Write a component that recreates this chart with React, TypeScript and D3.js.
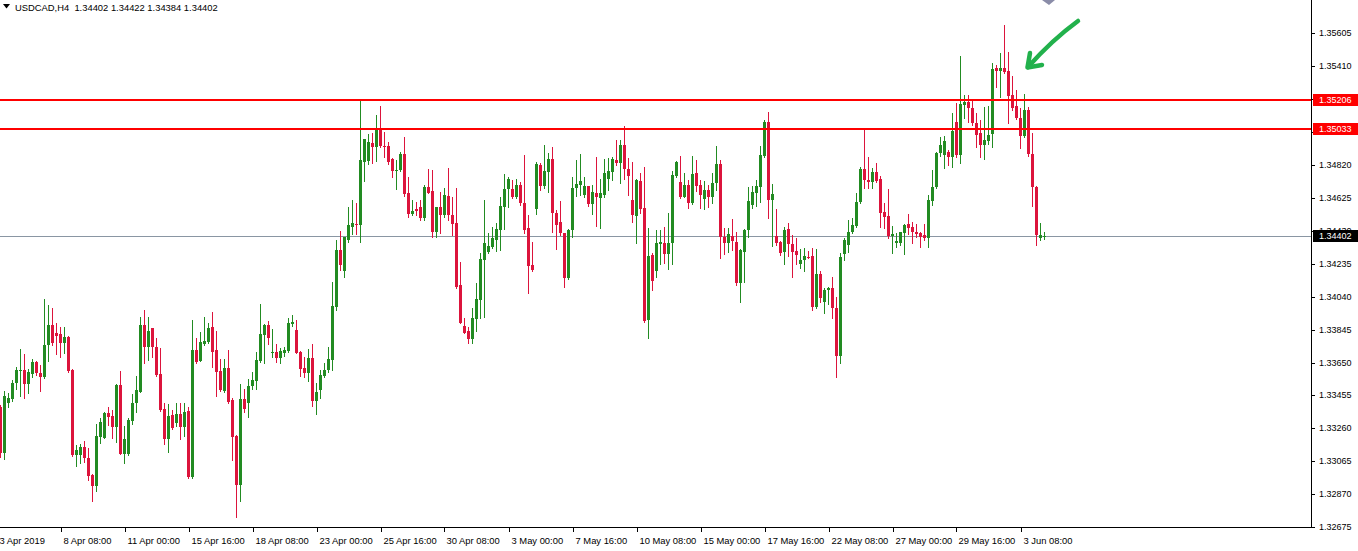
import React from "react";
import * as d3 from "d3";

// USDCAD H4 candles
const openP = [
1.33389,1.33116,1.33413,1.33433,1.33528,1.33607,1.33607,1.33522,1.33581,1.33656,
1.33591,1.33567,1.33755,1.33873,1.33828,1.33818,1.33765,1.33804,1.33607,1.33102,
1.33102,1.33152,1.33083,1.32984,1.32919,1.33211,1.33205,1.33350,1.33336,1.33270,
1.33518,1.33108,1.33107,1.33304,1.33409,1.33478,1.33873,1.33745,1.33854,1.33741,
1.33583,1.33375,1.33197,1.33340,1.33291,1.33346,1.33270,1.33363,1.32970,1.33725,
1.33662,1.33759,1.33774,1.33862,1.33725,1.33601,1.33482,1.33620,1.33429,1.33217,
1.32925,1.33435,1.33409,1.33514,1.33543,1.33660,1.33814,1.33873,1.33713,1.33715,
1.33680,1.33706,1.33721,1.33878,1.33844,1.33715,1.33620,1.33587,1.33680,1.33423,
1.33488,1.33571,1.33607,1.33666,1.33982,1.34318,1.34195,1.34377,1.34456,1.34470,
1.34466,1.34842,1.34848,1.34955,1.34927,1.35040,1.34935,1.34935,1.34858,1.34793,
1.34793,1.34888,1.34654,1.34532,1.34559,1.34573,1.34506,1.34694,1.34668,1.34427,
1.34571,1.34526,1.34638,1.34526,1.34480,1.34111,1.33868,1.33840,1.33789,1.33907,
1.34022,1.34259,1.34308,1.34338,1.34377,1.34437,1.34575,1.34678,1.34678,1.34631,
1.34704,1.34595,1.34447,1.34229,1.34560,1.34822,1.34700,1.34783,1.34856,1.34536,
1.34486,1.34417,1.34150,1.34437,1.34684,1.34704,1.34644,1.34698,1.34589,1.34654,
1.34625,1.34644,1.34737,1.34783,1.34852,1.34836,1.34941,1.34797,1.34615,1.34520,
1.34729,1.34566,1.33903,1.34289,1.34195,1.34352,1.34362,1.34295,1.34358,1.34758,
1.34723,1.34634,1.34704,1.34599,1.34777,1.34704,1.34619,1.34674,1.34631,1.34714,
1.34828,1.34397,1.34358,1.34401,1.34367,1.34121,1.34308,1.34437,1.34585,1.34654,
1.34694,1.34878,1.35079,1.34615,1.34403,1.34364,1.34308,1.34443,1.34352,1.34312,
1.34235,1.34259,1.34279,1.34283,1.33982,1.34174,1.34008,1.34081,1.34091,1.33972,
1.33691,1.34293,1.34348,1.34423,1.34462,1.34601,1.34797,1.34733,1.34720,1.34783,
1.34737,1.34545,1.34520,1.34403,1.34358,1.34358,1.34417,1.34471,1.34456,1.34427,
1.34417,1.34407,1.34388,1.34609,1.34694,1.34892,1.34882,1.34901,1.34872,1.35079,
1.34882,1.35178,1.35198,1.35159,1.35073,1.35010,1.34941,1.34966,1.35006,1.35396,
1.35381,1.35396,1.35381,1.35237,1.35172,1.35099,1.34994,1.35148,1.34888,1.34694,
1.34388,1.34402];

const highP = [
1.33399,1.33482,1.33468,1.33547,1.33626,1.33729,1.33700,1.33611,1.33672,1.33660,
1.33636,1.34026,1.33992,1.33976,1.33884,1.33863,1.33860,1.33810,1.33610,1.33162,
1.33168,1.33187,1.33142,1.32988,1.33286,1.33324,1.33359,1.33385,1.33369,1.33522,
1.33601,1.33274,1.33320,1.33464,1.33571,1.33919,1.33962,1.33923,1.33857,1.33798,
1.33735,1.33409,1.33403,1.33369,1.33409,1.33409,1.33409,1.33389,1.33903,1.33795,
1.33830,1.33919,1.33884,1.33952,1.33838,1.33672,1.33672,1.33725,1.33439,1.33220,
1.33524,1.33494,1.33553,1.33593,1.33715,1.33998,1.33879,1.33899,1.33848,1.33759,
1.33739,1.33745,1.33917,1.33933,1.33903,1.33718,1.33685,1.33731,1.33759,1.33528,
1.33607,1.33646,1.33745,1.34130,1.34377,1.34433,1.34397,1.34571,1.34615,1.34595,
1.35206,1.34978,1.35006,1.35010,1.35119,1.35172,1.35020,1.34960,1.34862,1.34852,
1.34901,1.34990,1.34749,1.34615,1.34605,1.34615,1.34704,1.34797,1.34793,1.34575,
1.34664,1.34684,1.34803,1.34634,1.34684,1.34249,1.33913,1.33863,1.33972,1.34121,
1.34302,1.34615,1.34417,1.34453,1.34480,1.34631,1.34769,1.34749,1.34733,1.34737,
1.34723,1.34882,1.34526,1.34367,1.34842,1.34836,1.34941,1.34892,1.34927,1.34555,
1.34609,1.34420,1.34440,1.34749,1.34852,1.34888,1.34753,1.34700,1.34704,1.34872,
1.34737,1.34856,1.34866,1.34872,1.34971,1.34971,1.35054,1.34862,1.34840,1.34737,
1.34777,1.34812,1.34450,1.34299,1.34437,1.34437,1.34456,1.34539,1.34788,1.34848,
1.34876,1.34773,1.34733,1.34876,1.34852,1.34733,1.34729,1.34704,1.34777,1.34935,
1.34852,1.34447,1.34447,1.34500,1.34427,1.34321,1.34443,1.34694,1.34700,1.34733,
1.34937,1.35089,1.35135,1.34708,1.34561,1.34372,1.34456,1.34476,1.34407,1.34391,
1.34324,1.34332,1.34312,1.34328,1.34324,1.34194,1.34095,1.34101,1.34160,1.34041,
1.34299,1.34388,1.34496,1.34506,1.34654,1.34812,1.35030,1.34872,1.34806,1.34832,
1.34757,1.34595,1.34680,1.34461,1.34417,1.34427,1.34471,1.34532,1.34483,1.34471,
1.34427,1.34471,1.34644,1.34793,1.34901,1.34990,1.34994,1.34911,1.35129,1.35188,
1.35469,1.35237,1.35237,1.35200,1.35129,1.35089,1.35168,1.35172,1.35425,1.35415,
1.35485,1.35652,1.35494,1.35350,1.35267,1.35159,1.35243,1.35164,1.35014,1.34697,
1.34476,1.34422];

const lowP = [
1.33092,1.33077,1.33385,1.33425,1.33492,1.33452,1.33439,1.33468,1.33563,1.33577,
1.33484,1.33557,1.33662,1.33755,1.33702,1.33682,1.33709,1.33597,1.33098,1.33039,
1.33057,1.33063,1.32954,1.32831,1.32889,1.33176,1.33200,1.33280,1.33200,1.33181,
1.33107,1.33057,1.33102,1.33285,1.33359,1.33474,1.33650,1.33666,1.33685,1.33571,
1.33363,1.33168,1.33122,1.33257,1.33276,1.33196,1.33217,1.32968,1.32965,1.33646,
1.33658,1.33755,1.33769,1.33626,1.33454,1.33482,1.33478,1.33409,1.33073,1.32737,
1.32831,1.33359,1.33326,1.33494,1.33494,1.33652,1.33646,1.33761,1.33682,1.33656,
1.33646,1.33691,1.33715,1.33869,1.33706,1.33573,1.33567,1.33541,1.33393,1.33346,
1.33439,1.33567,1.33597,1.33607,1.33962,1.34200,1.34160,1.34367,1.34413,1.34413,
1.34367,1.34729,1.34828,1.34832,1.34848,1.34927,1.34872,1.34828,1.34753,1.34682,
1.34788,1.34638,1.34516,1.34526,1.34526,1.34496,1.34496,1.34654,1.34397,1.34397,
1.34417,1.34516,1.34496,1.34407,1.34091,1.33884,1.33824,1.33765,1.33769,1.33840,
1.33913,1.33923,1.34302,1.34328,1.34313,1.34318,1.34441,1.34575,1.34629,1.34625,
1.34585,1.34417,1.34061,1.34195,1.34532,1.34674,1.34684,1.34664,1.34427,1.34322,
1.34407,1.34097,1.34146,1.34397,1.34638,1.34644,1.34631,1.34579,1.34532,1.34461,
1.34447,1.34631,1.34674,1.34733,1.34822,1.34717,1.34737,1.34644,1.34486,1.34358,
1.34536,1.33893,1.33798,1.34081,1.34160,1.34235,1.34239,1.34204,1.34235,1.34753,
1.34625,1.34631,1.34566,1.34591,1.34670,1.34566,1.34560,1.34575,1.34599,1.34674,
1.34269,1.34295,1.34308,1.34318,1.34111,1.34008,1.34130,1.34397,1.34566,1.34581,
1.34605,1.34872,1.34510,1.34344,1.34348,1.34289,1.34233,1.34284,1.34160,1.34233,
1.34210,1.34195,1.34269,1.33962,1.33976,1.34008,1.33943,1.33996,1.33913,1.33567,
1.33646,1.34259,1.34308,1.34417,1.34456,1.34595,1.34688,1.34684,1.34688,1.34720,
1.34456,1.34450,1.34388,1.34299,1.34338,1.34348,1.34293,1.34411,1.34358,1.34397,
1.34334,1.34377,1.34338,1.34585,1.34684,1.34877,1.34805,1.34822,1.34812,1.34872,
1.34832,1.35099,1.35079,1.35059,1.34931,1.34872,1.34856,1.34947,1.34931,1.35287,
1.35227,1.35370,1.35070,1.35148,1.35093,1.34921,1.34990,1.34876,1.34579,1.34348,
1.34377,1.34384];

const closeP = [
1.33116,1.33452,1.33439,1.33528,1.33607,1.33608,1.33522,1.33597,1.33656,1.33587,
1.33567,1.33755,1.33873,1.33765,1.33810,1.33765,1.33804,1.33601,1.33102,1.33132,
1.33152,1.33083,1.32980,1.32919,1.33215,1.33297,1.33353,1.33330,1.33270,1.33518,
1.33108,1.33197,1.33310,1.33413,1.33488,1.33873,1.33745,1.33838,1.33741,1.33577,
1.33369,1.33197,1.33336,1.33261,1.33346,1.33270,1.33359,1.32970,1.33725,1.33656,
1.33774,1.33779,1.33854,1.33715,1.33597,1.33488,1.33620,1.33419,1.33211,1.32925,
1.33435,1.33375,1.33514,1.33547,1.33666,1.33818,1.33873,1.33795,1.33715,1.33680,
1.33719,1.33725,1.33884,1.33890,1.33709,1.33613,1.33587,1.33680,1.33423,1.33474,
1.33577,1.33607,1.33670,1.33986,1.34318,1.34229,1.34393,1.34466,1.34476,1.34466,
1.34852,1.34975,1.34960,1.34927,1.35043,1.34935,1.34927,1.34842,1.34788,1.34795,
1.34888,1.34650,1.34532,1.34551,1.34551,1.34506,1.34694,1.34658,1.34427,1.34571,
1.34526,1.34644,1.34526,1.34472,1.34101,1.33887,1.33828,1.33789,1.33913,1.34026,
1.34263,1.34362,1.34342,1.34388,1.34441,1.34579,1.34678,1.34737,1.34631,1.34704,
1.34595,1.34437,1.34225,1.34200,1.34828,1.34700,1.34787,1.34856,1.34536,1.34466,
1.34417,1.34150,1.34437,1.34684,1.34710,1.34727,1.34698,1.34589,1.34664,1.34634,
1.34654,1.34777,1.34787,1.34856,1.34832,1.34941,1.34797,1.34757,1.34526,1.34733,
1.34560,1.33899,1.34283,1.34136,1.34358,1.34364,1.34295,1.34358,1.34763,1.34842,
1.34634,1.34704,1.34599,1.34769,1.34698,1.34644,1.34674,1.34631,1.34714,1.34828,
1.34393,1.34362,1.34413,1.34373,1.34121,1.34318,1.34437,1.34609,1.34660,1.34698,
1.34882,1.35079,1.34615,1.34648,1.34358,1.34299,1.34437,1.34352,1.34308,1.34289,
1.34259,1.34283,1.34277,1.33982,1.34174,1.34035,1.34081,1.34091,1.33972,1.33691,
1.34279,1.34377,1.34427,1.34466,1.34605,1.34797,1.34733,1.34723,1.34783,1.34727,
1.34539,1.34516,1.34403,1.34411,1.34372,1.34423,1.34466,1.34450,1.34427,1.34411,
1.34397,1.34388,1.34615,1.34694,1.34892,1.34941,1.34965,1.34872,1.35026,1.34882,
1.35184,1.35198,1.35159,1.35073,1.35000,1.34941,1.34971,1.35000,1.35390,1.35381,
1.35396,1.35376,1.35231,1.35159,1.35099,1.34994,1.35148,1.34888,1.34694,1.34407,
1.34407,1.34402];

const priceTicks = [1.35605, 1.35410, 1.35215, 1.35015, 1.34820, 1.34625, 1.34430, 1.34235,
  1.34040, 1.33845, 1.33650, 1.33455, 1.33260, 1.33065, 1.32870, 1.32675];
const dateLabels = ["3 Apr 2019", "8 Apr 08:00", "11 Apr 00:00", "15 Apr 16:00", "18 Apr 08:00",
  "23 Apr 00:00", "25 Apr 16:00", "30 Apr 08:00", "3 May 00:00", "7 May 16:00", "10 May 08:00",
  "15 May 00:00", "17 May 16:00", "22 May 08:00", "27 May 00:00", "29 May 16:00", "3 Jun 08:00"];
const levelLines = [1.35206, 1.35033];
const bidPrice = 1.34402;
const headerText = "USDCAD,H4  1.34402 1.34422 1.34384 1.34402";

const UP = "#228b22";
const DOWN = "#dc143c";
const FONT = "'Liberation Sans', Arial, sans-serif";

export default function App() {
  const W = 1358, H = 551;
  const plotRight = 1311, plotBottom = 527;
  const n = openP.length;
  const x = d3.scaleLinear().domain([0, n - 1]).range([0.5, 0.5 + 4 * (n - 1)]);
  const y = d3.scaleLinear().domain([1.32675, 1.35605]).range([527, 33]);
  const ry = (v: number) => Math.round(y(v));

  const candles = openP.map((o, i) => {
    const c = closeP[i], h = highP[i], l = lowP[i];
    const up = c >= o;
    const col = up ? UP : DOWN;
    const cx = x(i);
    const yt = ry(Math.max(o, c)), yb = ry(Math.min(o, c));
    return (
      <g key={i}>
        <line x1={cx} x2={cx} y1={ry(h)} y2={ry(l) + 1} stroke={col} strokeWidth={1} />
        <rect x={cx - 1.5} y={yt} width={3} height={Math.max(1, yb - yt)} fill={col} />
      </g>
    );
  });

  return (
    <svg width={W} height={H} style={{ position: "absolute", left: 0, top: 0, background: "#fff" }}
      shapeRendering="crispEdges" fontFamily={FONT}>
      <rect x={0} y={0} width={W} height={H} fill="#fff" />
      {/* bid line */}
      <line x1={0} x2={plotRight} y1={ry(bidPrice) + 0.5} y2={ry(bidPrice) + 0.5} stroke="#8a96a3" strokeWidth={1} />
      {candles}
      {levelLines.map((v) => (
        <line key={v} x1={0} x2={plotRight} y1={y(v)} y2={y(v)} stroke="#ff0000" strokeWidth={2} />
      ))}
      {/* axes */}
      <line x1={plotRight + 0.5} x2={plotRight + 0.5} y1={0} y2={plotBottom + 1} stroke="#000" />
      <line x1={0} x2={plotRight + 1} y1={plotBottom + 0.5} y2={plotBottom + 0.5} stroke="#000" />
      {priceTicks.map((v) => (
        <g key={v}>
          <line x1={plotRight} x2={plotRight + 4} y1={ry(v) + 0.5} y2={ry(v) + 0.5} stroke="#000" />
          <text x={plotRight + 8} y={ry(v)} dy="0.35em" fontSize={9} fill="#000" shapeRendering="auto">
            {v.toFixed(5)}
          </text>
        </g>
      ))}
      {dateLabels.map((s, k) => {
        const tx = Math.round(x(16 * k - 1)) + 0.5;
        return (
          <g key={s}>
            <line x1={tx} x2={tx} y1={plotBottom} y2={plotBottom + 5} stroke="#000" />
            <text x={tx + 2} y={544} fontSize={9.4} fill="#000">{s}</text>
          </g>
        );
      })}
      {levelLines.map((v) => (
        <g key={"l" + v}>
          <rect x={plotRight + 2} y={ry(v) - 6} width={45} height={12} fill="#ff0000" />
          <text x={plotRight + 8} y={ry(v)} dy="0.35em" fontSize={9} fill="#fff">{v.toFixed(5)}</text>
        </g>
      ))}
      <rect x={plotRight + 2} y={ry(bidPrice) - 6} width={45} height={12} fill="#000" />
      <text x={plotRight + 8} y={ry(bidPrice)} dy="0.35em" fontSize={9} fill="#fff">{bidPrice.toFixed(5)}</text>
      {/* header */}
      <polygon points="3,4 10,4 6.5,8.5" fill="#000" shapeRendering="auto" />
      <text x={15} y={11} fontSize={9.4} fill="#000" style={{ whiteSpace: "pre" }}>{headerText}</text>
      {/* annotation shapes */}
      <polygon points="1042,0 1055,0 1049,5" fill="#8a8ca8" shapeRendering="auto" />
      <g stroke="#22b14c" strokeWidth={4.5} fill="none" strokeLinecap="round" strokeLinejoin="round" shapeRendering="auto">
        <path d="M1078,21 Q1052,40 1028,67" />
        <path d="M1030,53 L1027.5,67.5 L1042,65" />
      </g>
    </svg>
  );
}
